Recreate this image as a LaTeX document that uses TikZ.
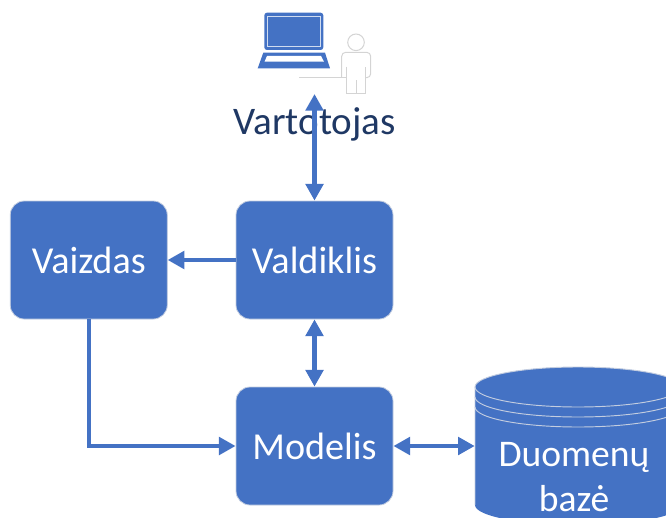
\documentclass[tikz,border=0pt]{standalone}
\usepackage{fontspec}
\setmainfont{Carlito}
\usetikzlibrary{arrows.meta}
\definecolor{boxblue}{HTML}{4472C4}
\definecolor{boxedge}{HTML}{C3CDE0}
\definecolor{usertext}{HTML}{1F3864}
\definecolor{persongrey}{HTML}{D4D4D4}
\tikzset{
  mvcbox/.style={draw=boxedge,line width=0.6pt,fill=boxblue,rounded corners=10.5pt,minimum width=117.75pt,minimum height=88.5pt,inner sep=0pt,text=white,font=\fontsize{28.6}{33.75}\selectfont},
  link/.style={draw=boxblue,line width=3.2pt},
  oneway/.style={link,-{Triangle[length=12.5pt,width=13pt]}},
  twoway/.style={link,{Triangle[length=12.5pt,width=13pt]}-{Triangle[length=12.5pt,width=13pt]}},
  dbedge/.style={draw=boxedge,line width=0.7pt},
  person/.style={draw=persongrey,line width=0.75pt},
}
\begin{document}
\begin{tikzpicture}[x=0.75pt,y=-0.75pt]
\useasboundingbox (0,0) rectangle (666,517);
\clip (0,0) rectangle (666,517);
% laptop
\fill[boxblue,rounded corners=2pt] (264.3,12.7) rectangle (323.3,50);
\draw[white!75!boxblue,line width=0.6pt] (267.7,16) rectangle (320,46);
\fill[boxblue] (263.3,52.7) -- (325,52.7) -- (330,68.3) -- (257.7,68.3) -- cycle;
\fill[white] (267,56) -- (321,56) -- (324,61.7) -- (264.5,61.7) -- cycle;
% person
\draw[person] (356,42.3) circle (8.3);
\draw[person,rounded corners=3pt] (341.7,77.7) -- (341.7,52.3) -- (370.7,52.3) -- (370.7,77.7) -- (365.7,77.7);
\draw[person] (346.7,66.7) -- (346.7,93.7) -- (365.7,93.7) -- (365.7,66.7);
\draw[person] (356,80) -- (356,93.7);
\draw[person] (299.3,77.7) -- (346.7,77.7);
% label and boxes
\node[text=usertext,font=\fontsize{29.3}{33.75}\selectfont,inner sep=0pt] (user) at (314.5,124) {Vartotojas};
\coordinate (userend) at (314.5,94);
\node[mvcbox] (view) at (88.75,260) {Vaizdas};
\node[mvcbox] (ctrl) at (314.5,260) {Valdiklis};
\node[mvcbox] (model) at (314.5,446) {Modelis};
% database
\fill[boxblue] (475,387) arc[start angle=180,end angle=360,x radius=103,y radius=20] -- (681,505) arc[start angle=0,end angle=180,x radius=103,y radius=20] -- cycle;
\draw[dbedge] (475,505) -- (475,387) arc[start angle=180,end angle=360,x radius=103,y radius=20];
\draw[dbedge] (475,387) arc[start angle=180,end angle=0,x radius=103,y radius=20];
\draw[dbedge] (475,397) arc[start angle=180,end angle=0,x radius=103,y radius=20];
\draw[dbedge] (475,407) arc[start angle=180,end angle=0,x radius=103,y radius=20];
\node[minimum width=150pt,minimum height=88.5pt,inner sep=0pt] (db) at (575,446) {};
\node[inner sep=0pt,align=center,text=white,font=\fontsize{28.2}{33.75}\selectfont] (dblabel) at (574,477) {Duomenų\\bazė};
% connectors
\draw[twoway] (userend) -- (ctrl.north);
\draw[oneway] (ctrl.west) -- (view.east);
\draw[twoway] (ctrl.south) -- (model.north);
\draw[oneway] (view.south) |- (model.west);
\draw[twoway] (model.east) -- (db.west);
\end{tikzpicture}
\end{document}
